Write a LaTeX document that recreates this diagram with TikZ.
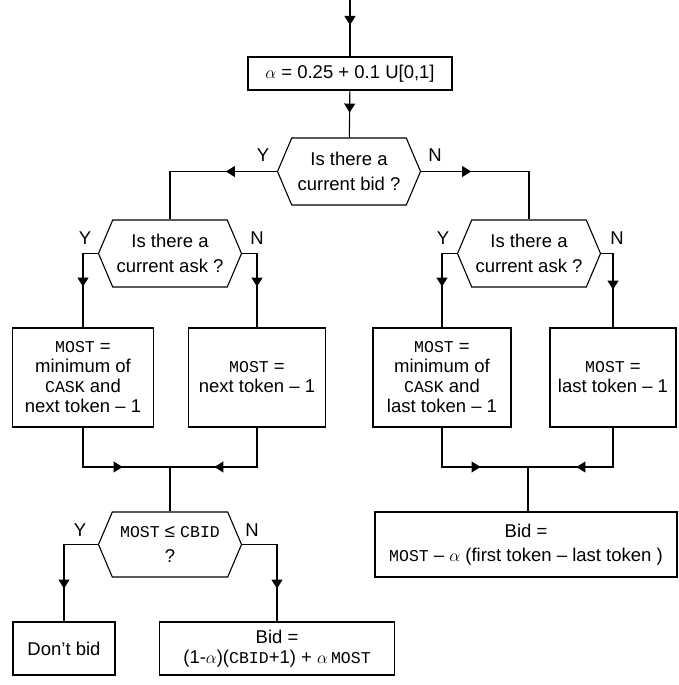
\documentclass[tikz,border=0pt]{standalone}
\usepackage{fontspec}
\setmainfont{Liberation Sans}
\newfontfamily\monof{Liberation Mono}
\usetikzlibrary{shapes.symbols,arrows.meta,decorations.markings}
\newcommand{\tm}[1]{{\monof\fontsize{16.5}{20}\selectfont #1}}
\begin{document}
\begin{tikzpicture}[x=1pt,y=-1pt,
  box/.style={draw, rectangle, line width=1.1pt, align=center, inner sep=0pt, font=\fontsize{18.5}{20}\selectfont},
  hex/.style={draw, signal, signal to=west and east, signal pointer angle=134, line width=1.1pt, inner sep=0pt, align=center, minimum width=143pt, minimum height=67pt, font=\fontsize{18.5}{25}\selectfont},
  conn/.style={line width=1.1pt},
  arr/.style={postaction={decorate}, decoration={markings, mark=at position #1 with {\arrow{Triangle[width=11pt,length=9pt]}}}},
  lbl/.style={font=\fontsize{18.5}{20}\selectfont, inner sep=0pt}]
\useasboundingbox (0,0) rectangle (678,685);

\coordinate (start) at (350,0);
\node[box, minimum width=204pt, minimum height=33pt] (alpha) at (350,73.5) {$\alpha$ = 0.25 + 0.1 U[0,1]};

\node[hex] (q1) at (349,171.5) {Is there a\\current bid ?};
\node[hex] (q2) at (170,253.5) {Is there a\\current ask ?};
\node[hex] (q3) at (529,253.5) {Is there a\\current ask ?};
\node[hex, minimum height=65pt] (q4) at (170,544.5) {\tm{MOST} ≤ \tm{CBID}\\?};

\node[box, minimum width=141pt, minimum height=99pt] (b1) at (83,377.5) {\tm{MOST} =\\minimum of\\\tm{CASK} and\\next token – 1};
\node[box, minimum width=137pt, minimum height=99pt] (b2) at (257,377.5) {\tm{MOST} =\\next token – 1};
\node[box, minimum width=138pt, minimum height=99pt] (b3) at (442,377.5) {\tm{MOST} =\\minimum of\\\tm{CASK} and\\last token – 1};
\node[box, minimum width=126pt, minimum height=99pt] (b4) at (613,377.5) {\tm{MOST} =\\last token – 1};

\node[box, minimum width=102pt, minimum height=53pt] (dont) at (64,648.5) {Don't bid};
\node[box, minimum width=235pt, minimum height=53pt] (bid1) at (277,648.5) {Bid =\\(1-$\alpha$)(\tm{CBID}+1) + $\alpha$\,\tm{MOST}};
\node[box, minimum width=302pt, minimum height=65pt, font=\fontsize{18.5}{24}\selectfont] (bid2) at (526,544.5) {Bid =\\\tm{MOST} – $\alpha$ (first token – last token )};

\coordinate (m1) at (170,467);
\coordinate (m2) at (528,467);

\node[lbl] (y1) at (263,155) {Y};
\node[lbl] (n1) at (435,155) {N};
\node[lbl] (y2) at (85,238) {Y};
\node[lbl] (n2) at (257,238) {N};
\node[lbl] (y3) at (443,238) {Y};
\node[lbl] (n3) at (617,238) {N};
\node[lbl] (y4) at (80,530) {Y};
\node[lbl] (n4) at (252,530) {N};

\draw[conn, arr=25pt] (start) -- (alpha);
\draw[conn, arr=22pt] (alpha) -- (q1);
\draw[conn, arr=51pt] (q1.west) -| (q2.north);
\draw[conn, arr=50pt] (q1.east) -| (q3.north);
\draw[conn, arr=48pt] (q2.west) -| (b1.north);
\draw[conn, arr=48pt] (q2.east) -| (b2.north);
\draw[conn, arr=48pt] (q3.west) -| (b3.north);
\draw[conn, arr=48pt] (q3.east) -| (b4.north);
\draw[conn, arr=79pt] (b1.south) |- (m1);
\draw[conn, arr=82pt] (b2.south) |- (m1);
\draw[conn] (m1) -- (q4.north);
\draw[conn, arr=78pt] (b3.south) |- (m2);
\draw[conn, arr=76pt] (b4.south) |- (m2);
\draw[conn] (m2) -- (m2 |- bid2.north);
\draw[conn, arr=78pt] (q4.west) -| (dont.north);
\draw[conn, arr=79pt] (q4.east) -| (bid1.north);
\end{tikzpicture}
\end{document}
